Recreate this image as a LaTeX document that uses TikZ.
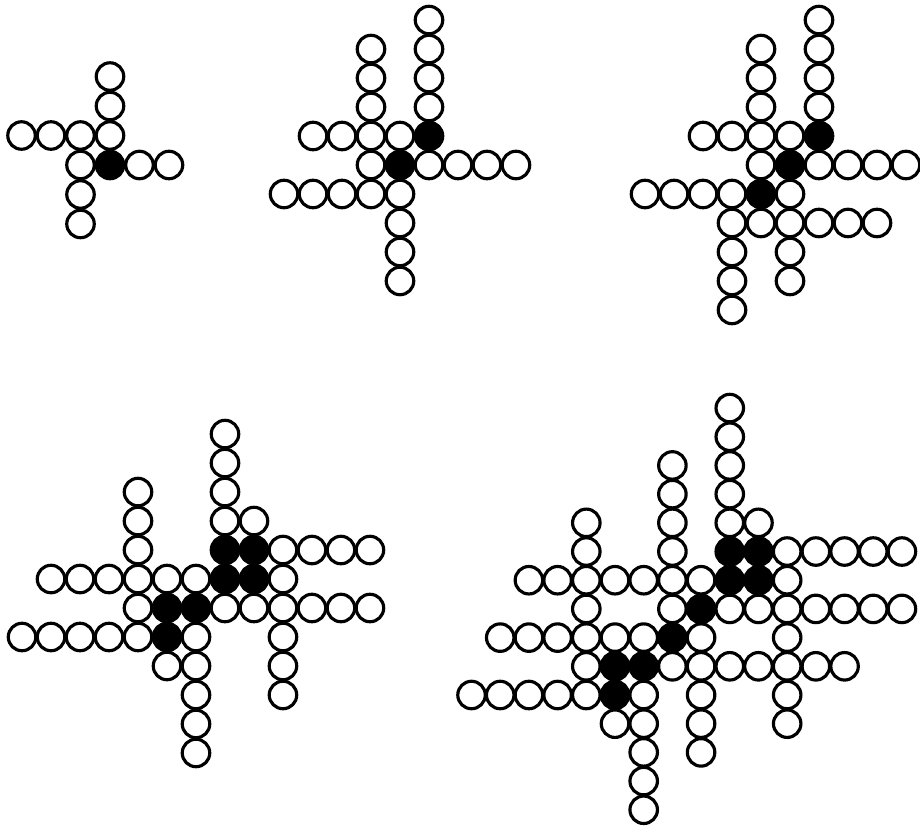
\documentclass[tikz,border=0pt]{standalone}
\usetikzlibrary{positioning}

\newcommand{\hrun}[4]{\foreach \c in {#2,...,#3} \node[ring] (#1-\c-#4) at (\c,#4) {};}
\newcommand{\vrun}[4]{\foreach \r in {#3,...,#4} \node[ring] (#1-#2-\r) at (#2,\r) {};}

\begin{document}
\begin{tikzpicture}[
  x=0.02cm, y=-0.02cm,
  ring/.style={circle, draw=black, line width=1.8pt, minimum size=0.55cm, inner sep=0pt},
  stone/.style={ring, fill=black},
  grid/.style={x=#1, y=#1}
]
\useasboundingbox (0,0) rectangle (920,831);

\begin{scope}[shift={(110,165)}, grid=0.59cm]
\foreach \c/\r in {0/0} \node[stone] (f1-s-\c-\r) at (\c,\r) {};
\hrun{f1}{-3}{0}{1}
\hrun{f1}{-1}{-1}{0}
\hrun{f1}{1}{2}{0}
\vrun{f1}{0}{2}{3}
\vrun{f1}{-1}{-2}{-1}
\end{scope}

\begin{scope}[shift={(400,165)}, grid=0.58cm]
\foreach \c/\r in {0/0, 1/1} \node[stone] (f2-s-\c-\r) at (\c,\r) {};
\hrun{f2}{-3}{0}{1}
\hrun{f2}{-1}{-1}{0}
\hrun{f2}{1}{4}{0}
\hrun{f2}{-4}{0}{-1}
\vrun{f2}{-1}{2}{4}
\vrun{f2}{1}{2}{5}
\vrun{f2}{0}{-4}{-2}
\end{scope}

\begin{scope}[shift={(790,165)}, grid=0.58cm]
\foreach \c/\r in {-1/-1, 0/0, 1/1} \node[stone] (f3-s-\c-\r) at (\c,\r) {};
\vrun{f3}{1}{2}{5}
\vrun{f3}{-1}{2}{4}
\hrun{f3}{-3}{0}{1}
\hrun{f3}{-1}{-1}{0}
\hrun{f3}{1}{4}{0}
\hrun{f3}{-5}{-2}{-1}
\hrun{f3}{0}{0}{-1}
\hrun{f3}{-2}{3}{-2}
\vrun{f3}{-2}{-5}{-3}
\vrun{f3}{0}{-4}{-3}
\end{scope}

\begin{scope}[shift={(167,637)}, grid=0.58cm]
\foreach \c/\r in {2/3, 3/3, 2/2, 3/2, 0/1, 1/1, 0/0} \node[stone] (f4-s-\c-\r) at (\c,\r) {};
\vrun{f4}{2}{4}{7}
\vrun{f4}{3}{4}{4}
\hrun{f4}{4}{7}{3}
\hrun{f4}{-4}{1}{2}
\hrun{f4}{4}{4}{2}
\hrun{f4}{-1}{-1}{1}
\hrun{f4}{2}{7}{1}
\hrun{f4}{-5}{-1}{0}
\hrun{f4}{1}{1}{0}
\hrun{f4}{4}{4}{0}
\vrun{f4}{-1}{3}{5}
\vrun{f4}{0}{-1}{-1}
\vrun{f4}{1}{-4}{-1}
\vrun{f4}{4}{-2}{-1}
\end{scope}

\begin{scope}[shift={(615,695)}, grid=0.574cm]
\foreach \c/\r in {4/5, 5/5, 4/4, 5/4, 3/3, 2/2, 0/1, 1/1, 0/0} \node[stone] (f5-s-\c-\r) at (\c,\r) {};
\vrun{f5}{4}{6}{10}
\vrun{f5}{5}{6}{6}
\hrun{f5}{-1}{-1}{5}
\hrun{f5}{2}{2}{5}
\hrun{f5}{6}{10}{5}
\hrun{f5}{-3}{3}{4}
\hrun{f5}{6}{6}{4}
\hrun{f5}{-1}{-1}{3}
\hrun{f5}{2}{2}{3}
\hrun{f5}{4}{10}{3}
\hrun{f5}{-4}{1}{2}
\hrun{f5}{3}{3}{2}
\hrun{f5}{6}{6}{2}
\hrun{f5}{-1}{-1}{1}
\hrun{f5}{2}{8}{1}
\hrun{f5}{-5}{-1}{0}
\foreach \c in {1,3,6} \node[ring] (f5-\c-0) at (\c,0) {};
\foreach \c in {0,1,3,6} \node[ring] (f5-\c--1) at (\c,-1) {};
\vrun{f5}{1}{-4}{-2}
\vrun{f5}{3}{-2}{-2}
\vrun{f5}{-1}{6}{6}
\vrun{f5}{2}{6}{8}
\end{scope}
\end{tikzpicture}
\end{document}
